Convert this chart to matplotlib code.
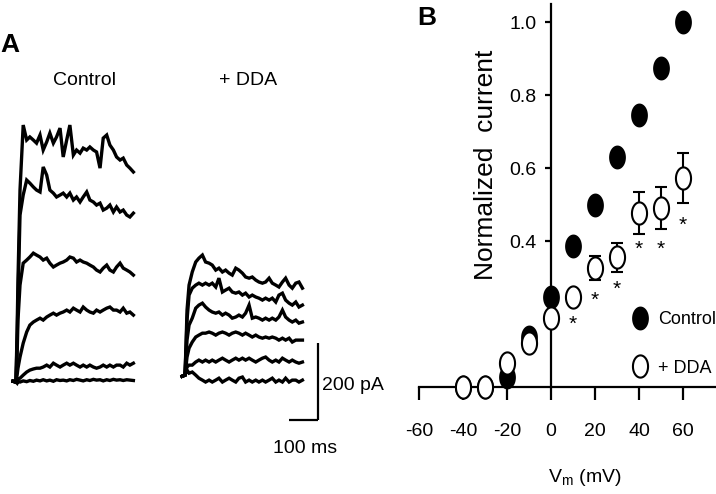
import numpy as np
import matplotlib
matplotlib.use('Agg')
import matplotlib.pyplot as plt
from matplotlib import font_manager
from matplotlib.path import Path

# narrow font if we have it, the original text is very condensed
names = {f.name for f in font_manager.fontManager.ttflist}
FONT = 'Liberation Sans Narrow' if 'Liberation Sans Narrow' in names else 'Liberation Sans'
plt.rcParams['font.family'] = [FONT, 'DejaVu Sans']
plt.rcParams['font.size'] = 14

# ---- panel A: current traces (ms, pA) ----
t_ms = [-10, 0, 4, 7, 14, 25, 37, 48, 60, 71, 83, 94, 106, 117, 129, 140, 152, 163, 175,
        186, 198, 209, 221, 232, 244, 255, 267, 278, 290, 301, 313, 324, 336, 347, 359,
        370, 382, 393, 405]

ctrl_1 = [2, 0, 135, 265, 499, 668, 629, 637, 629, 621, 642, 603, 624, 647, 621, 637, 660, 585,
          629, 668, 590, 603, 595, 608, 603, 611, 603, 598, 556, 634, 642, 616, 603, 585, 577,
          582, 564, 556, 546]
ctrl_2 = [2, 0, 109, 213, 434, 486, 525, 517, 507, 499, 494, 559, 538, 499, 491, 481, 486, 491,
          481, 491, 473, 481, 468, 481, 494, 473, 468, 460, 465, 447, 452, 460, 442, 455, 442,
          447, 434, 429, 439]
ctrl_3 = [2, 0, 70, 161, 252, 309, 317, 325, 335, 330, 325, 317, 322, 309, 299, 304, 309, 312,
          317, 325, 322, 312, 317, 312, 309, 304, 299, 291, 286, 296, 304, 291, 286, 299, 309,
          296, 291, 286, 278]
ctrl_4 = [2, 0, 18, 36, 65, 101, 130, 148, 156, 161, 166, 161, 169, 174, 179, 174, 179, 182,
          187, 182, 192, 187, 182, 195, 187, 182, 179, 187, 182, 187, 192, 195, 187, 187, 182,
          192, 179, 182, 174]
ctrl_5 = [2, 0, 5, 8, 10, 18, 26, 31, 34, 36, 36, 39, 44, 39, 49, 44, 39, 44, 49, 44, 49, 44,
          39, 44, 39, 44, 39, 36, 39, 44, 39, 44, 39, 44, 44, 39, 49, 44, 49]
ctrl_6 = [2, 0, -3, 2, 0, 3, 1, 4, 2, 5, 3, 6, 3, 5, 2, 6, 4, 5, 3, 6, 4, 7, 5, 3, 6, 4, 7, 5,
          6, 3, 6, 4, 7, 5, 6, 4, 6, 5, 4]

dda_1 = [15, 18, 109, 187, 252, 286, 312, 322, 330, 312, 309, 304, 291, 296, 286, 291, 283, 278,
         296, 291, 283, 273, 270, 273, 265, 260, 257, 260, 270, 257, 252, 247, 260, 270, 252,
         244, 257, 260, 244]
dda_2 = [15, 18, 96, 161, 226, 244, 252, 257, 252, 257, 252, 257, 247, 270, 234, 239, 244, 234,
         231, 234, 226, 231, 221, 226, 221, 218, 213, 218, 213, 218, 208, 226, 231, 213, 205,
         200, 208, 195, 200]
dda_3 = [15, 18, 70, 109, 148, 166, 192, 200, 205, 195, 187, 182, 179, 182, 174, 179, 174, 166,
         169, 174, 169, 179, 200, 166, 169, 166, 161, 166, 161, 166, 161, 169, 187, 169, 161,
         156, 161, 153, 156]
dda_4 = [15, 18, 44, 65, 88, 104, 117, 122, 127, 127, 130, 127, 122, 127, 130, 127, 122, 127,
         130, 127, 122, 127, 122, 117, 122, 117, 114, 117, 114, 117, 114, 109, 114, 109, 114,
         104, 109, 109, 109]
dda_5 = [15, 18, 31, 39, 44, 44, 52, 57, 52, 57, 52, 57, 52, 57, 62, 57, 52, 57, 62, 57, 62, 57,
         62, 57, 52, 57, 62, 65, 57, 52, 57, 52, 62, 57, 52, 57, 52, 49, 52]
dda_6 = [15, 18, 26, 31, 23, 26, 18, 10, 5, 0, 5, 0, 5, 10, 0, 5, 10, 5, 0, 10, 13, 0, 5, 0, 5,
         0, 5, 0, 5, 10, 0, 5, 0, 10, 0, 5, 5, 0, 5]

ctrl_traces = [ctrl_1, ctrl_2, ctrl_3, ctrl_4, ctrl_5, ctrl_6]
dda_traces = [dda_1, dda_2, dda_3, dda_4, dda_5, dda_6]

# ---- panel B: normalized I-V ----
vm = [-40, -30, -20, -10, 0, 10, 20, 30, 40, 50, 60]
i_ctrl = [0.0, 0.0, 0.027, 0.137, 0.247, 0.386, 0.499, 0.63, 0.745, 0.874, 1.0]
i_dda = [0.0, 0.0, 0.066, 0.12, 0.19, 0.247, 0.326, 0.356, 0.477, 0.49, 0.573]
i_dda_err = [0, 0, 0, 0, 0, 0, 0.033, 0.04, 0.058, 0.057, 0.068]
star_vm = [10, 20, 30, 40, 50, 60]
star_y = [0.172, 0.238, 0.268, 0.378, 0.378, 0.443]

W, H = 716, 494
fig = plt.figure(figsize=(W / 100, H / 100), dpi=100)

# panel A
axA = fig.add_axes([0, 0, 390 / W, 1])
axA.axis('off')
axA.set_xlim(-55, 1290)
axA.set_ylim(-291, 993)
dda_shift = 583  # where the +DDA traces start on the page
for tr in ctrl_traces:
    axA.plot(t_ms, tr, color='k', lw=2.4, solid_joinstyle='miter')
for tr in dda_traces:
    axA.plot(np.array(t_ms) + dda_shift, tr, color='k', lw=2.4, solid_joinstyle='miter')

# scale bars 200 pA / 100 ms
axA.plot([1042, 1042], [-99, 101], color='k', lw=1.6, solid_capstyle='butt')
axA.plot([942, 1042], [-99, -99], color='k', lw=1.6, solid_capstyle='butt')
axA.text(1054, -10, '200 pA', ha='left', va='center')
axA.text(997, -172, '100 ms', ha='center', va='center')
axA.text(238, 785, 'Control', ha='center', va='center')
axA.text(238 + 562, 785, '+ DDA', ha='center', va='center')
fig.text(0.0, 1 - 45 / H, 'A', ha='left', va='center', fontsize=19, fontweight='bold')
fig.text(427 / W, 1 - 18 / H, 'B', ha='center', va='center', fontsize=19, fontweight='bold')

# panel B
th = np.linspace(0, 2 * np.pi, 61)
ell = Path(np.column_stack([0.68 * np.cos(th), np.sin(th)]), closed=True)

axB = fig.add_axes([419 / W, 107 / H, 297 / W, 383 / H])
axB.set_xlim(-60, 75)
axB.set_ylim(0, 1.05)
for s in ['top', 'right']:
    axB.spines[s].set_visible(False)
axB.spines['left'].set_position(('data', 0))
axB.spines['left'].set_linewidth(1.6)
axB.spines['bottom'].set_linewidth(1.6)
axB.spines['left'].set_zorder(1)
axB.set_xticks([-60, -40, -20, 0, 20, 40, 60])
axB.set_xticklabels(['-60', '-40', '-20', '0', '20', '40', '60'])
axB.set_yticks([0.4, 0.6, 0.8, 1.0])
axB.set_yticklabels(['0.4', '0.6', '0.8', '1.0'])
axB.tick_params(axis='x', direction='out', length=9, width=1.6, pad=17, labelsize=14)
axB.tick_params(axis='y', direction='out', length=4.5, width=1.6, pad=6, labelsize=14)

axB.errorbar(vm, i_dda, yerr=i_dda_err, fmt='none', ecolor='k', elinewidth=1.5,
             capsize=4.3, capthick=1.5, zorder=2)
axB.plot(vm, i_ctrl, ls='none', marker=ell, ms=16, mfc='k', mec='k', mew=1.2,
         clip_on=False, zorder=3, label='Control')
axB.plot(vm, i_dda, ls='none', marker=ell, ms=16, mfc='w', mec='k', mew=1.5,
         clip_on=False, zorder=4, label='+ DDA')
for x, y in zip(star_vm, star_y):
    axB.text(x, y, '*', ha='center', va='center', fontsize=15)

axB.legend(loc='upper left', bbox_to_anchor=(631 / W, 1 - 311 / H),
           bbox_transform=fig.transFigure, frameon=False, borderpad=0, borderaxespad=0,
           handlelength=1.0, handletextpad=0.5, labelspacing=1.75, fontsize=13)

fig.text(486 / W, 1 - 165 / H, 'Normalized  current', rotation=90, ha='center',
         va='center', fontsize=19)
fig.text(585 / W, 1 - 477 / H, r'V$_\mathregular{m}$ (mV)', ha='center', va='center',
         fontsize=14)

fig.savefig('out.png', dpi=100)
